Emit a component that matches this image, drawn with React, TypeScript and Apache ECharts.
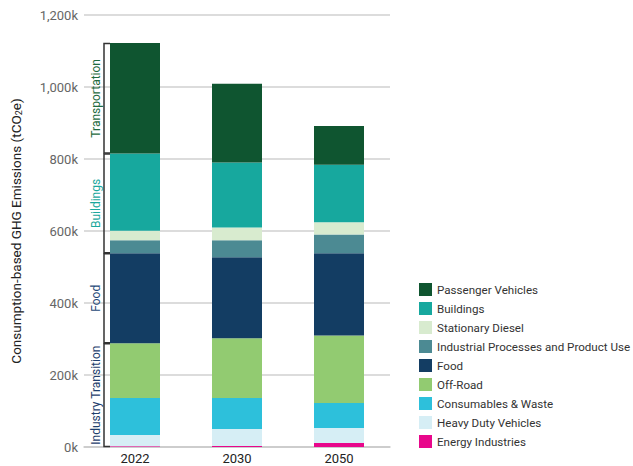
import React, { useEffect, useRef } from "react";
import * as echarts from "echarts";

const categories = ["2022", "2030", "2050"];

const energyIndustries = [2000, 3000, 11000];
const heavyDutyVehicles = [31000, 47000, 42000];
const consumablesWaste = [103000, 86000, 69000];
const offRoad = [152000, 166000, 188000];
const food = [250000, 225000, 228000];
const industrialProcesses = [36000, 47000, 52000];
const stationaryDiesel = [27000, 36000, 34000];
const buildings = [214000, 180000, 160000];
const passengerVehicles = [307000, 219000, 108000];

const yTicks = { min: 0, max: 1200000, interval: 200000 };

const seriesDefs = [
  { name: "Energy Industries", data: energyIndustries, color: "#e8078b" },
  { name: "Heavy Duty Vehicles", data: heavyDutyVehicles, color: "#d6eef5" },
  { name: "Consumables & Waste", data: consumablesWaste, color: "#2dc0db" },
  { name: "Off-Road", data: offRoad, color: "#92cb71" },
  { name: "Food", data: food, color: "#133d63" },
  { name: "Industrial Processes and Product Use", data: industrialProcesses, color: "#4c8a93" },
  { name: "Stationary Diesel", data: stationaryDiesel, color: "#d8ebcf" },
  { name: "Buildings", data: buildings, color: "#17a89e" },
  { name: "Passenger Vehicles", data: passengerVehicles, color: "#0f5530" },
];

const FONT = "Roboto, 'Noto Sans', sans-serif";

export default function App() {
  const ref = useRef<HTMLDivElement>(null);
  useEffect(() => {
    if (!ref.current) return;
    const chart = echarts.init(ref.current, null, { renderer: "svg" });

    const i = 0;
    const industryTop = energyIndustries[i] + heavyDutyVehicles[i] + consumablesWaste[i] + offRoad[i];
    const foodTop = industryTop + food[i];
    const buildingsTop = foodTop + industrialProcesses[i] + stationaryDiesel[i] + buildings[i];
    const transportTop = buildingsTop + passengerVehicles[i];
    const brackets = [
      { value: [0, 0, industryTop], label: "Industry Transition", color: "#1f3f6d" },
      { value: [0, industryTop, foodTop], label: "Food", color: "#1f4a78" },
      { value: [0, foodTop, buildingsTop], label: "Buildings", color: "#1aa89c" },
      { value: [0, buildingsTop, transportTop], label: "Transportation", color: "#1e6b3e" },
    ];
    const BAR_W = 50;

    const option: any = {
      animation: false,
      textStyle: { fontFamily: FONT },
      grid: { left: 84, right: 243, top: 15, bottom: 19, containLabel: false },
      legend: {
        orient: "vertical",
        left: 414,
        top: 278,
        itemWidth: 13,
        itemHeight: 13,
        itemGap: 6,
        icon: "rect",
        textStyle: { fontSize: 11.6, color: "#333", fontFamily: FONT },
        data: [...seriesDefs].reverse().map((s) => s.name),
      },
      xAxis: {
        type: "category",
        data: categories,
        axisTick: { show: false },
        axisLine: { lineStyle: { color: "#c8c8c8", width: 1.5 } },
        axisLabel: { fontSize: 13, color: "#222", margin: 5, fontFamily: FONT },
      },
      yAxis: {
        type: "value",
        min: yTicks.min,
        max: yTicks.max,
        interval: yTicks.interval,
        name: "{a|Consumption-based GHG Emissions (tCO}{s|2}{a|e)}",
        nameLocation: "middle",
        nameGap: 61,
        nameTextStyle: {
          rich: {
            a: { fontSize: 13.5, color: "#222", fontFamily: FONT },
            s: { fontSize: 9, color: "#222", fontFamily: FONT, verticalAlign: "bottom", padding: [6, 0, 0, 0] },
          },
        },
        axisLabel: {
          fontSize: 13,
          color: "#666",
          margin: 6,
          fontFamily: FONT,
          formatter: (v: number) => (v / 1000).toLocaleString("en-US") + "k",
        },
        splitLine: { lineStyle: { color: "#d0d0d0", width: 1.5 } },
      },
      series: [
        ...seriesDefs.map((s) => ({
          name: s.name,
          type: "bar",
          stack: "total",
          barWidth: BAR_W,
          data: s.data,
          itemStyle: { color: s.color },
        })),
        {
          type: "custom",
          name: "brackets",
          silent: true,
          z: 10,
          data: brackets.map((b) => ({ value: b.value })),
          renderItem: (params: any, api: any) => {
            const idx = params.dataIndex;
            const b = brackets[idx];
            const top = api.coord([api.value(0), api.value(2)]);
            const bot = api.coord([api.value(0), api.value(1)]);
            const barLeft = top[0] - BAR_W / 2;
            const x = barLeft - 6;
            return {
              type: "group",
              children: [
                {
                  type: "polyline",
                  shape: {
                    points: [
                      [barLeft, top[1] + 0.5],
                      [x, top[1] + 0.5],
                      [x, bot[1] - 0.5],
                      [barLeft, bot[1] - 0.5],
                    ],
                  },
                  style: { stroke: "#333", lineWidth: 1.5, fill: null },
                },
                {
                  type: "text",
                  x: x - 8,
                  y: (top[1] + bot[1]) / 2,
                  rotation: Math.PI / 2,
                  style: {
                    text: b.label,
                    fill: b.color,
                    font: `12px ${FONT}`,
                    align: "center",
                    verticalAlign: "middle",
                  },
                },
              ],
            };
          },
        },
      ],
    };
    chart.setOption(option);
    return () => chart.dispose();
  }, []);
  return <div ref={ref} style={{ position: "absolute", left: 0, top: 0, width: 633, height: 466 }} />;
}
